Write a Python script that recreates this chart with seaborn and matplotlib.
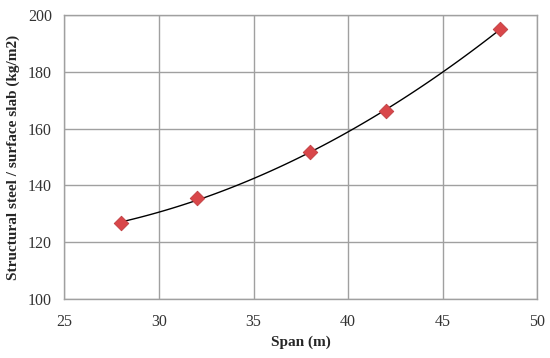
import numpy as np
import pandas as pd
import matplotlib
matplotlib.use("Agg")
import matplotlib.pyplot as plt
import seaborn as sns

# 数据
span = [28, 32, 38, 42, 48]
steel = [126.7, 135.5, 151.7, 166.2, 195.0]

df = pd.DataFrame({"span": span, "steel": steel})

sns.set_style("white")
plt.rcParams['font.family'] = ['Liberation Serif', 'DejaVu Serif']

fig, ax = plt.subplots(figsize=(5.5, 3.58), dpi=100)

# 二次趋势线
sns.regplot(data=df, x="span", y="steel", order=2, ci=None, scatter=False,
            line_kws={"color": "black", "linewidth": 1.0}, ax=ax)
sns.scatterplot(data=df, x="span", y="steel", marker="D", s=55,
                color="#d9474a", edgecolor="#c03f42", linewidth=0.6, zorder=3, ax=ax)

ax.set_xlim(25, 50)
ax.set_ylim(100, 200)
ax.set_xticks(range(25, 51, 5))
ax.set_yticks(range(100, 201, 20))
ax.grid(True, color="#a0a0a0", linewidth=1.0)
ax.set_axisbelow(True)
for s in ax.spines.values():
    s.set_color("#a0a0a0")
    s.set_linewidth(1.0)
ax.tick_params(length=0, labelsize=11.5, colors="#333333")
ax.tick_params(axis="x", pad=11)
ax.tick_params(axis="y", pad=9)

ax.set_xlabel("Span (m)", fontsize=11, fontweight="bold", labelpad=4)
ax.set_ylabel("Structural steel / surface slab (kg/m2)", fontsize=11,
              fontweight="bold", labelpad=6)

fig.subplots_adjust(left=0.117, right=0.977, top=0.958, bottom=0.165)
fig.savefig("out.png", dpi=100)
